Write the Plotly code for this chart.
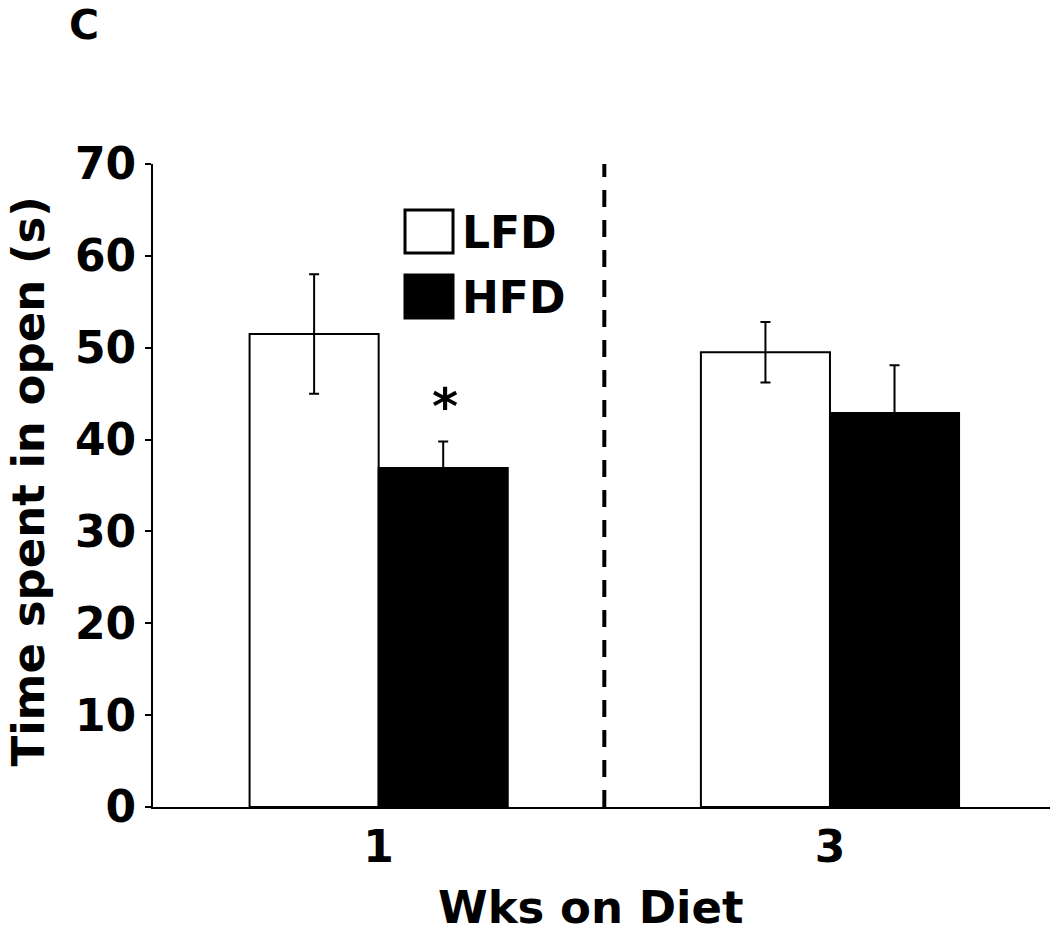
import plotly.graph_objects as go

weeks = ["1", "3"]
lfd_mean = [51.5, 49.5]
lfd_err = [6.5, 3.3]
hfd_mean = [36.9, 42.9]
hfd_err = [2.9, 5.2]
y_ticks = [0, 10, 20, 30, 40, 50, 60, 70]

FONT = "DejaVu Sans"

fig = go.Figure()
fig.add_trace(go.Bar(
    name="LFD", x=weeks, y=lfd_mean,
    marker=dict(color="white", line=dict(color="black", width=2)),
    error_y=dict(type="data", array=lfd_err, color="black", thickness=2, width=5),
))
fig.add_trace(go.Bar(
    name="HFD", x=weeks, y=hfd_mean,
    marker=dict(color="black", line=dict(color="black", width=2)),
    error_y=dict(type="data", array=hfd_err, color="black", thickness=2, width=5),
))

fig.update_layout(
    width=1050, height=935,
    margin=dict(l=153, r=0, t=164, b=128, autoexpand=False),
    plot_bgcolor="white", paper_bgcolor="white",
    barmode="group", bargap=0.428, bargroupgap=0,
    showlegend=False,
    font=dict(family=FONT, color="black"),
)
fig.update_xaxes(
    type="category", range=[-0.5, 1.4875], automargin=False,
    showline=True, linecolor="black", linewidth=2,
    ticks="", showgrid=False,
    tickfont=dict(family=FONT, size=44, weight="bold"),
)
fig.update_yaxes(
    range=[0, 70], tickvals=y_ticks, automargin=False,
    showline=True, linecolor="black", linewidth=2,
    ticks="outside", ticklen=6, tickwidth=2, tickcolor="black",
    showgrid=False, zeroline=False,
    tickfont=dict(family=FONT, size=44, weight="bold"),
)

def px_x(p):
    return (p - 153) / 897
def px_y(p):
    return (807 - p) / 643

# axis titles
fig.add_annotation(xref="paper", yref="paper", x=px_x(590), y=px_y(935),
                   xanchor="center", yanchor="bottom", text="Wks on Diet", showarrow=False,
                   borderpad=0,
                   font=dict(family=FONT, size=45, weight="bold"))
fig.add_annotation(xref="paper", yref="paper", x=px_x(0), y=px_y(482),
                   xanchor="left", yanchor="middle", text="Time spent in open (s)",
                   textangle=-90, showarrow=False, borderpad=0,
                   font=dict(family=FONT, size=45, weight="bold"))

# dashed separator between weeks
fig.add_shape(type="line", xref="x", yref="paper", x0=0.5, x1=0.5, y0=0, y1=1,
              line=dict(color="black", width=4, dash="17px,13px"))

# significance marker
fig.add_annotation(xref="x", yref="y", x=0, y=hfd_mean[0] + hfd_err[0],
                   xshift=66, yshift=34, yanchor="middle",
                   text="*", showarrow=False,
                   font=dict(family=FONT, size=50, weight="bold"))

# custom legend
fig.add_shape(type="rect", xref="paper", yref="paper",
              x0=px_x(405), x1=px_x(453), y0=px_y(253), y1=px_y(210),
              line=dict(color="black", width=3), fillcolor="white")
fig.add_shape(type="rect", xref="paper", yref="paper",
              x0=px_x(405), x1=px_x(453), y0=px_y(318), y1=px_y(275),
              line=dict(color="black", width=3), fillcolor="black")
fig.add_annotation(xref="paper", yref="paper", x=px_x(460), y=px_y(232),
                   xanchor="left", yanchor="middle", text="LFD", showarrow=False,
                   font=dict(family=FONT, size=44, weight="bold"))
fig.add_annotation(xref="paper", yref="paper", x=px_x(460), y=px_y(297),
                   xanchor="left", yanchor="middle", text="HFD", showarrow=False,
                   font=dict(family=FONT, size=44, weight="bold"))

# panel label
fig.add_annotation(xref="paper", yref="paper", x=px_x(68), y=px_y(0),
                   xanchor="left", yanchor="top", text="C", showarrow=False,
                   borderpad=0,
                   font=dict(family=FONT, size=41, weight="bold"))

fig.write_html("out.html", config={"displayModeBar": False},
               post_script="document.body.style.margin='0';")
